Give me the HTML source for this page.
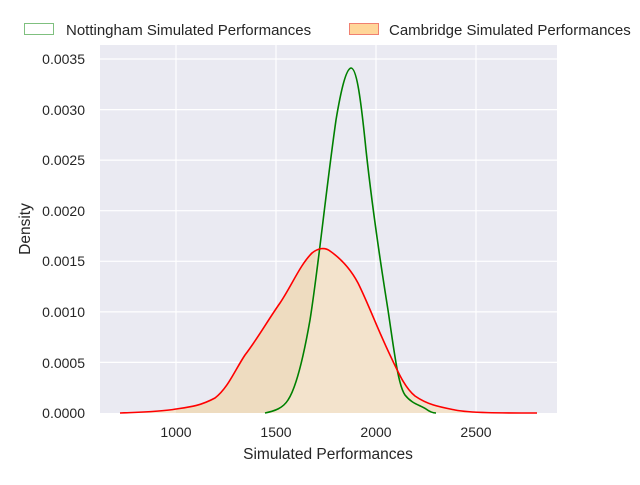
<!DOCTYPE html><html><head><style>body{margin:0;background:#fff}svg{font-family:"Liberation Sans",sans-serif}</style></head><body>
<svg width="640" height="480" viewBox="0 0 640 480">
<rect x="100" y="45" width="457" height="368" fill="#eaeaf2"/>
<g stroke="#fff" stroke-width="1.2">
<line x1="176" y1="45" x2="176" y2="413"/><line x1="276" y1="45" x2="276" y2="413"/><line x1="376" y1="45" x2="376" y2="413"/><line x1="476" y1="45" x2="476" y2="413"/>
<line x1="100" y1="59" x2="557" y2="59"/><line x1="100" y1="109.6" x2="557" y2="109.6"/><line x1="100" y1="160.1" x2="557" y2="160.1"/><line x1="100" y1="210.7" x2="557" y2="210.7"/><line x1="100" y1="261.3" x2="557" y2="261.3"/><line x1="100" y1="311.9" x2="557" y2="311.9"/><line x1="100" y1="362.4" x2="557" y2="362.4"/>
</g>
<path d="M120,413 C150,412 165,411 176,409 C190,407 200,406 215,398 C228,388 235,370 245,355 C258,338 268,320 280,303 C292,285 300,265 312,253 C318,248 325,247 330,251 C340,258 350,268 358,283 C368,303 378,330 390,355 C398,372 405,388 415,396 C428,405 440,407 455,410 C470,413 500,413 537,413 Z" fill="#f3e3cc"/>
<path d="M176,409 C190,407 200,406 215,398 C228,388 235,370 245,355 C258,338 268,320 280,303 C292,285 300,265 312,253 L316,250 C314,280 310,330 300,370 C292,398 280,410 265,413 L176,413 Z" fill="#eedcc0"/>
<path d="M265,413 C275,411 283,408 288,400 C296,388 303,360 310,320 C318,270 326,190 336,120 C341,90 346,69 351,68 C356,68 360,90 366,150 C372,205 380,260 388,310 C394,350 398,385 405,395 C412,404 420,405 426,409 C430,412 433,413 436,413" fill="none" stroke="#008000" stroke-width="1.6"/>
<path d="M120,413 C150,412 165,411 176,409 C190,407 200,406 215,398 C228,388 235,370 245,355 C258,338 268,320 280,303 C292,285 300,265 312,253 C318,248 325,247 330,251 C340,258 350,268 358,283 C368,303 378,330 390,355 C398,372 405,388 415,396 C428,405 440,407 455,410 C470,413 500,413 537,413" fill="none" stroke="#ff0000" stroke-width="1.6"/>
<g font-size="14" fill="#262626" text-anchor="end">
<text x="85" y="64">0.0035</text><text x="85" y="115">0.0030</text><text x="85" y="165">0.0025</text><text x="85" y="216">0.0020</text><text x="85" y="266">0.0015</text><text x="85" y="317">0.0010</text><text x="85" y="368">0.0005</text><text x="85" y="418">0.0000</text>
</g>
<g font-size="14" fill="#262626" text-anchor="middle">
<text x="176" y="437">1000</text><text x="276" y="437">1500</text><text x="376" y="437">2000</text><text x="476" y="437">2500</text>
<text x="328" y="459" font-size="15.5">Simulated Performances</text>
<text transform="translate(30,229) rotate(-90)" font-size="15.5">Density</text>
</g>
<rect x="24.5" y="23.5" width="29" height="11" fill="#fff" stroke="#7fc07f"/>
<rect x="349.5" y="23.5" width="29" height="11" fill="#ffd699" stroke="#f08070"/>
<g font-size="15" fill="#262626"><text x="66" y="35">Nottingham Simulated Performances</text><text x="389" y="35">Cambridge Simulated Performances</text></g>
</svg></body></html>
